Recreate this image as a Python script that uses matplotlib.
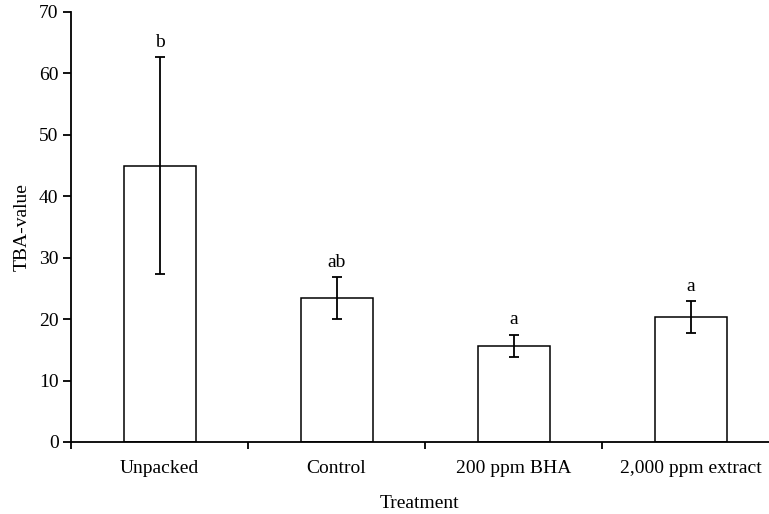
import matplotlib
matplotlib.use("Agg")
import matplotlib.pyplot as plt

categories = ["Unpacked", "Control", "200 ppm BHA", "2,000 ppm extract"]
values = [45.0, 23.5, 15.7, 20.4]
errors = [17.7, 3.4, 1.8, 2.6]
letters = ["b", "ab", "a", "a"]
yticks = [0, 10, 20, 30, 40, 50, 60, 70]

plt.rcParams["font.family"] = ["Liberation Serif", "DejaVu Serif"]
FS = 14

W, H = 769, 514
fig = plt.figure(figsize=(W / 100, H / 100), dpi=100)
left, right, bottom, top = 71, 769, 442, 12
ax = fig.add_axes([left / W, (H - bottom) / H, (right - left) / W, (bottom - top) / H])

x = list(range(len(categories)))
ax.bar(x, values, width=72 / 177, color="white", edgecolor="black", linewidth=1.1, zorder=2)
ax.errorbar(x, values, yerr=errors, fmt="none", ecolor="black", elinewidth=1.3,
            capsize=3.5, capthick=1.3, zorder=3)
for xi, v, e, l in zip(x, values, errors, letters):
    ax.text(xi, v + e + 1.0, l, ha="center", va="bottom", fontsize=FS)

ax.set_xlim(-0.5, -0.5 + (right - left) / 177)
ax.set_ylim(0, 70)
ax.set_yticks(yticks)
ax.set_yticklabels([str(t) for t in yticks], fontsize=FS)
ax.set_xticks(x)
ax.set_xticklabels(categories, fontsize=FS)
ax.tick_params(axis="x", which="major", length=0, pad=13)
ax.set_xticks([-0.5, 0.5, 1.5, 2.5], minor=True)
ax.tick_params(axis="x", which="minor", length=5, width=1.3, direction="out")
ax.tick_params(axis="y", length=6, width=1.3, direction="out", pad=3)

for s in ["top", "right"]:
    ax.spines[s].set_visible(False)
for s in ["left", "bottom"]:
    ax.spines[s].set_linewidth(1.3)

ax.set_ylabel("TBA-value", fontsize=FS, labelpad=6)
ax.set_xlabel("Treatment", fontsize=FS, labelpad=13)

fig.savefig("out.png", dpi=100)
